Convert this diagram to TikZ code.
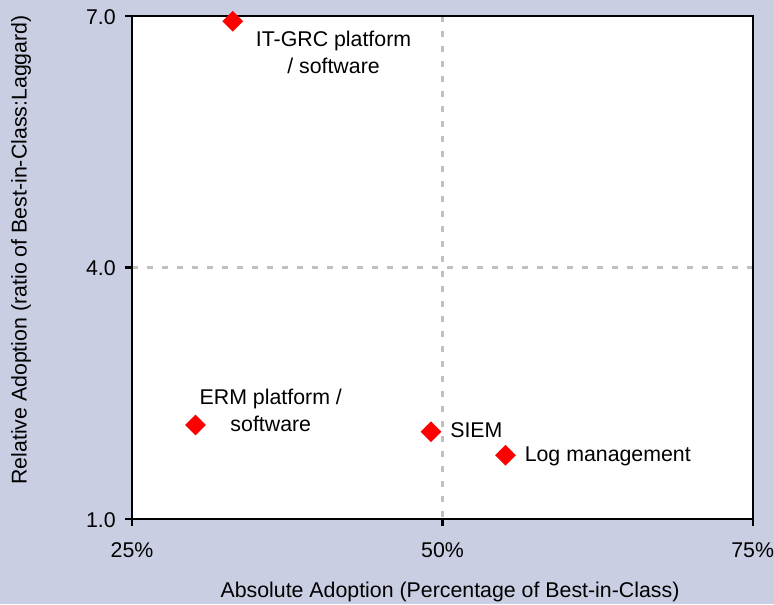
\documentclass[tikz,border=0pt]{standalone}
\usepackage{fontspec}
\setmainfont{Liberation Sans}
\usetikzlibrary{shapes.geometric}
\definecolor{panelbg}{RGB}{202,206,226}
\definecolor{gridgray}{RGB}{192,192,192}
\definecolor{markred}{RGB}{255,0,0}
\tikzset{
  x=0.75pt, y=-0.75pt,
  lbl/.style={font=\fontsize{16}{20}\selectfont, inner sep=0pt, text=black},
  gridline/.style={gridgray, line width=1.7pt, dash pattern=on 4.5pt off 6.75pt},
  frameline/.style={black, line width=1.6pt},
  tickline/.style={black, line width=1.6pt},
  marker/.style={diamond, fill=markred, draw=none, inner sep=0pt, minimum size=15.75pt},
}
\begin{document}
\begin{tikzpicture}
  % canvas
  \fill[panelbg] (0,0) rectangle (774,604);
  \path[use as bounding box] (0,0) rectangle (774,604);

  % plot area: x 25%..75% -> 132..753, y 1.0..7.0 -> 519..16
  \coordinate (pa-sw) at (132,519);
  \coordinate (pa-ne) at (753,16);
  \fill[white] (pa-sw) rectangle (pa-ne);

  % dashed reference lines at 50% and 4.0
  \coordinate (vx-top) at (442.5,16);
  \coordinate (vx-bot) at (442.5,519);
  \coordinate (hy-left) at (132,267.5);
  \coordinate (hy-right) at (753,267.5);
  \draw[gridline] (vx-top) -- (vx-bot);
  \draw[gridline] (hy-left) -- (hy-right);

  % frame
  \draw[frameline] (pa-sw) rectangle (pa-ne);

  % y ticks and labels
  \foreach \yy/\tt/\nm in {519/1.0/ya, 267.5/4.0/yb, 16/7.0/yc} {
    \draw[tickline] (125,\yy) -- (132,\yy);
    \node[lbl, anchor=base east] (\nm) at (116,\yy+8) {\tt};
  }
  % x ticks and labels
  \foreach \xx/\tt/\nm in {132/25\%/xa, 442.5/50\%/xb, 752.7/75\%/xc} {
    \draw[tickline] (\xx,519) -- (\xx,526);
    \node[lbl, anchor=base] (\nm) at (\xx,557) {\tt};
  }

  % axis titles
  \node[lbl, anchor=base] (xtitle) at (450,597) {Absolute Adoption (Percentage of Best-in-Class)};
  \node[lbl, anchor=base, rotate=90] (ytitle) at (26.5,250) {Relative Adoption (ratio of Best-in-Class:Laggard)};

  % data points
  \node[marker] (itgrc) at (232.8,21.3) {};
  \node[marker] (erm)   at (195.5,425)  {};
  \node[marker] (siem)  at (431,431.7)  {};
  \node[marker] (logm)  at (505.5,455.3) {};

  % point labels
  \node[lbl, anchor=north, align=center] (itgrc-l) at (333.5,31.2) {IT-GRC platform\\/ software};
  \node[lbl, anchor=north, align=center] (erm-l) at (270.8,388.8) {ERM platform /\\software};
  \node[lbl, anchor=base west] (siem-l) at (450,437.7) {SIEM};
  \node[lbl, anchor=base west] (logm-l) at (524.5,461.7) {Log management};
\end{tikzpicture}
\end{document}
